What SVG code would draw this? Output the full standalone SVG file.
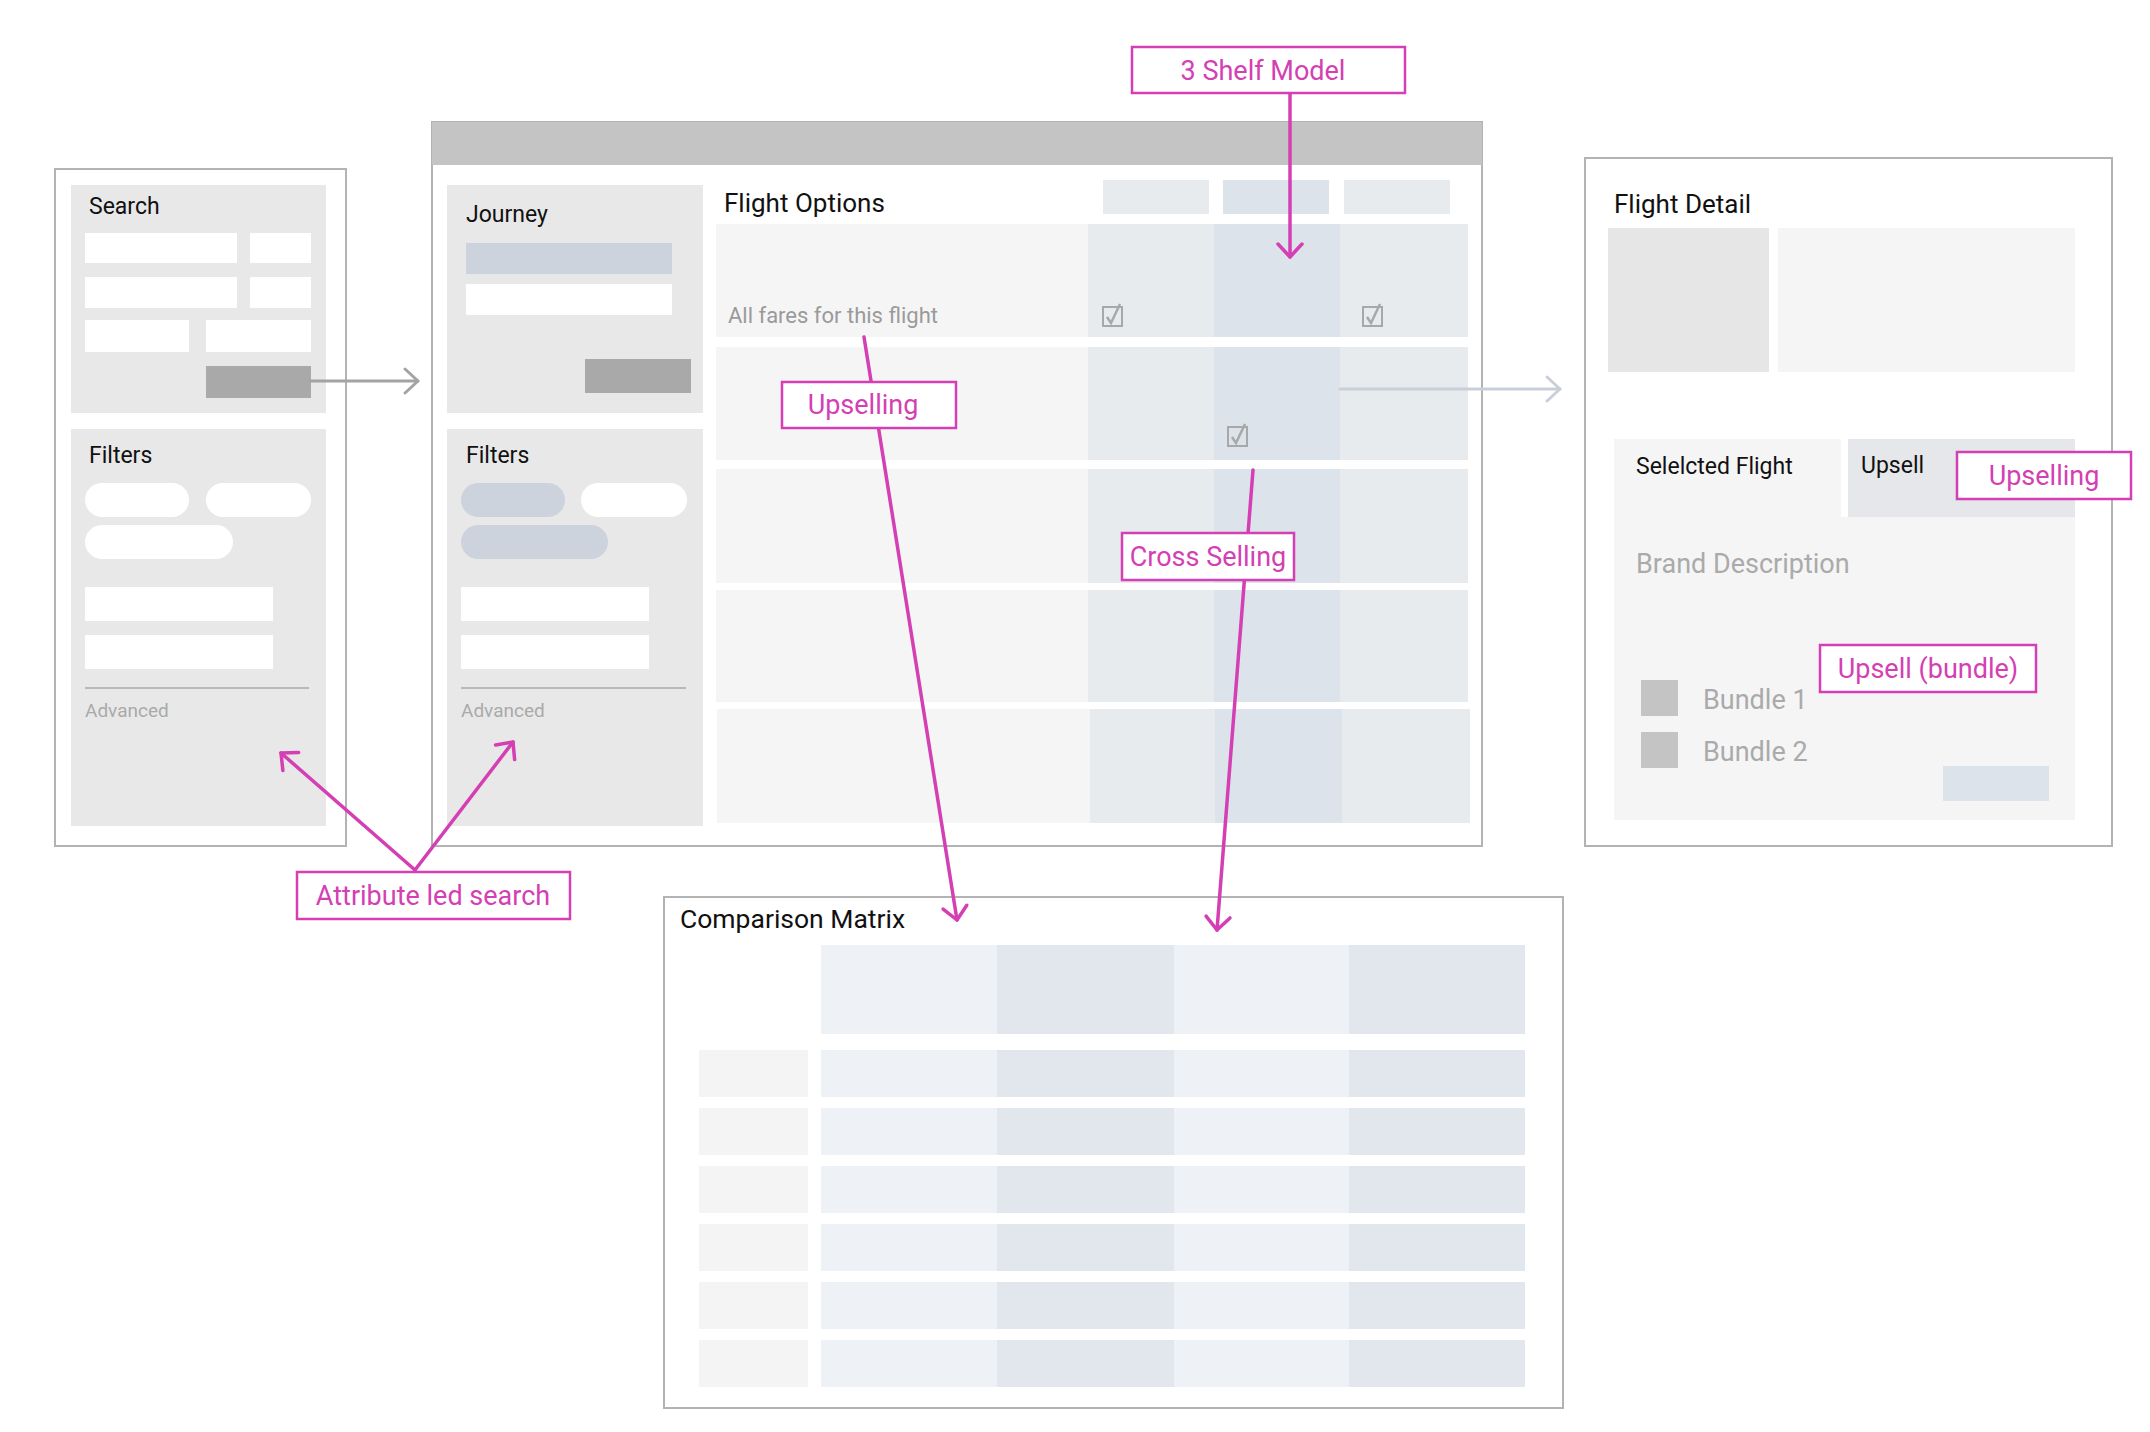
<svg xmlns="http://www.w3.org/2000/svg" width="2150" height="1432" viewBox="0 0 2150 1432">
<defs>
<style>
text{font-family:Roboto,"Liberation Sans",sans-serif}
.frame{fill:#fff;stroke:#b3b3b3;stroke-width:2}
.panel{fill:#e8e8e8}
.inp{fill:#fff}
.btn{fill:#a9a9a9}
.blue{fill:#ccd3dd}
.row{fill:#f5f5f6}
.c1{fill:#e8ebee}
.c2{fill:#dde3ea}
.m1{fill:#eef1f5}
.m2{fill:#e2e6ed}
.lab{fill:#f4f4f4}
.h{font-size:23px;fill:#111}
.t{font-size:26px;fill:#111}
.g{font-size:27px;fill:#aaaaaa}
.adv{font-size:19px;fill:#aaaaaa}
.sep{stroke:#a8a8a8;stroke-width:1.5}
.cb{fill:none;stroke:#a8a8a8;stroke-width:2}
.call rect{fill:#fff;stroke:#d43fb4;stroke-width:2.5}
.call text{font-size:27px;fill:#d43fb4;text-anchor:middle}
.pk{fill:none;stroke:#d43fb4;stroke-width:3.5;stroke-linecap:round}
.gy{fill:none;stroke:#a3a3a3;stroke-width:3;stroke-linecap:round}
.bl{fill:none;stroke:#c9cfd8;stroke-width:3;stroke-linecap:round}
</style>
<marker id="mpk" viewBox="-16 -15 20 30" refX="0" refY="0" markerWidth="20" markerHeight="30" markerUnits="userSpaceOnUse" orient="auto">
<path d="M-13,-12 L0,0 L-13,12" fill="none" stroke="#d43fb4" stroke-width="3.5" stroke-linecap="round" stroke-linejoin="round"/>
</marker>
<marker id="mgy" viewBox="-16 -15 20 30" refX="0" refY="0" markerWidth="20" markerHeight="30" markerUnits="userSpaceOnUse" orient="auto">
<path d="M-13,-12 L0,0 L-13,12" fill="none" stroke="#a3a3a3" stroke-width="3" stroke-linecap="round" stroke-linejoin="round"/>
</marker>
<marker id="mbl" viewBox="-16 -15 20 30" refX="0" refY="0" markerWidth="20" markerHeight="30" markerUnits="userSpaceOnUse" orient="auto">
<path d="M-13,-12 L0,0 L-13,12" fill="none" stroke="#c9cfd8" stroke-width="3" stroke-linecap="round" stroke-linejoin="round"/>
</marker>
<g id="check">
<rect x="0" y="0" width="19" height="19" class="cb"/>
<path d="M4,10 L8,16 L17,-3" fill="none" stroke="#a8a8a8" stroke-width="2.5"/>
</g>
</defs>
<rect width="2150" height="1432" fill="#fff"/>

<g id="search-panel">
<rect x="55" y="169" width="291" height="677" class="frame"/>
<rect x="71" y="185" width="255" height="228" class="panel"/>
<text x="89" y="214" class="h">Search</text>
<rect x="85" y="233" width="152" height="30" class="inp"/>
<rect x="250" y="233" width="61" height="30" class="inp"/>
<rect x="85" y="277" width="152" height="31" class="inp"/>
<rect x="250" y="277" width="61" height="31" class="inp"/>
<rect x="85" y="320" width="104" height="32" class="inp"/>
<rect x="206" y="320" width="105" height="32" class="inp"/>
<rect x="206" y="366" width="105" height="32" class="btn"/>
<rect x="71" y="429" width="255" height="397" class="panel"/>
<text x="89" y="463" class="h">Filters</text>
<rect x="85" y="483" width="104" height="34" rx="17" class="inp"/>
<rect x="206" y="483" width="105" height="34" rx="17" class="inp"/>
<rect x="85" y="525" width="148" height="34" rx="17" class="inp"/>
<rect x="85" y="587" width="188" height="34" class="inp"/>
<rect x="85" y="635" width="188" height="34" class="inp"/>
<line x1="85" y1="688" x2="309" y2="688" class="sep"/>
<text x="85" y="717" class="adv">Advanced</text>
</g>

<g id="results-window">
<rect x="432" y="122" width="1050" height="724" class="frame"/>
<rect x="432" y="122" width="1050" height="43" fill="#c4c4c4"/>
<rect x="447" y="185" width="256" height="228" class="panel"/>
<text x="466" y="222" class="h">Journey</text>
<rect x="466" y="243" width="206" height="31" class="blue"/>
<rect x="466" y="284" width="206" height="31" class="inp"/>
<rect x="585" y="359" width="106" height="34" class="btn"/>
<rect x="447" y="429" width="256" height="397" class="panel"/>
<text x="466" y="463" class="h">Filters</text>
<rect x="461" y="483" width="104" height="34" rx="17" class="blue"/>
<rect x="581" y="483" width="106" height="34" rx="17" class="inp"/>
<rect x="461" y="525" width="147" height="34" rx="17" class="blue"/>
<rect x="461" y="587" width="188" height="34" class="inp"/>
<rect x="461" y="635" width="188" height="34" class="inp"/>
<line x1="461" y1="688" x2="686" y2="688" class="sep"/>
<text x="461" y="717" class="adv">Advanced</text>

<text x="724" y="212" class="t">Flight Options</text>
<rect x="1103" y="180" width="106" height="34" class="c1"/>
<rect x="1223" y="180" width="106" height="34" class="c2"/>
<rect x="1344" y="180" width="106" height="34" class="c1"/>

<g id="fare-rows">
<rect x="716" y="224" width="372" height="113" class="row"/>
<rect x="1088" y="224" width="126" height="113" class="c1"/>
<rect x="1214" y="224" width="126" height="113" class="c2"/>
<rect x="1340" y="224" width="128" height="113" class="c1"/>

<rect x="716" y="347" width="372" height="113" class="row"/>
<rect x="1088" y="347" width="126" height="113" class="c1"/>
<rect x="1214" y="347" width="126" height="113" class="c2"/>
<rect x="1340" y="347" width="128" height="113" class="c1"/>

<rect x="716" y="469" width="372" height="114" class="row"/>
<rect x="1088" y="469" width="126" height="114" class="c1"/>
<rect x="1214" y="469" width="126" height="114" class="c2"/>
<rect x="1340" y="469" width="128" height="114" class="c1"/>

<rect x="716" y="590" width="372" height="112" class="row"/>
<rect x="1088" y="590" width="126" height="112" class="c1"/>
<rect x="1214" y="590" width="126" height="112" class="c2"/>
<rect x="1340" y="590" width="128" height="112" class="c1"/>

<rect x="717" y="709" width="373" height="114" class="row"/>
<rect x="1090" y="709" width="125" height="114" class="c1"/>
<rect x="1215" y="709" width="127" height="114" class="c2"/>
<rect x="1342" y="709" width="128" height="114" class="c1"/>
</g>
<text x="728" y="323" font-size="22" fill="#9a9a9a">All fares for this flight</text>
<use href="#check" x="1103" y="307"/>
<use href="#check" x="1363" y="307"/>
<use href="#check" x="1228" y="427"/>
</g>

<g id="flight-detail">
<rect x="1585" y="158" width="527" height="688" class="frame"/>
<text x="1614" y="213" class="t">Flight Detail</text>
<rect x="1608" y="228" width="161" height="144" fill="#e6e6e6"/>
<rect x="1778" y="228" width="297" height="144" class="row"/>
<rect x="1614" y="439" width="461" height="381" class="row"/>
<rect x="1841" y="439" width="7" height="78" fill="#fff"/>
<rect x="1848" y="439" width="227" height="78" fill="#e5e7ea"/>
<text x="1636" y="474" class="h">Selelcted Flight</text>
<text x="1861" y="473" class="h">Upsell</text>
<text x="1636" y="573" class="g">Brand Description</text>
<rect x="1641" y="680" width="37" height="36" fill="#c4c4c4"/>
<rect x="1641" y="732" width="37" height="36" fill="#c4c4c4"/>
<text x="1703" y="709" class="g">Bundle 1</text>
<text x="1703" y="761" class="g">Bundle 2</text>
<rect x="1943" y="766" width="106" height="35" class="c2"/>
</g>

<g id="comparison-matrix">
<rect x="664" y="897" width="899" height="511" class="frame"/>
<text x="680" y="928" font-size="26.5" fill="#111">Comparison Matrix</text>
<rect x="821" y="945" width="176" height="89" class="m1"/>
<rect x="997" y="945" width="177" height="89" class="m2"/>
<rect x="1174" y="945" width="175" height="89" class="m1"/>
<rect x="1349" y="945" width="176" height="89" class="m2"/>
<g id="matrix-row">
<rect x="699" y="1050" width="109" height="47" class="lab"/>
<rect x="821" y="1050" width="176" height="47" class="m1"/>
<rect x="997" y="1050" width="177" height="47" class="m2"/>
<rect x="1174" y="1050" width="175" height="47" class="m1"/>
<rect x="1349" y="1050" width="176" height="47" class="m2"/>
</g>
<use href="#matrix-row" y="58"/>
<use href="#matrix-row" y="116"/>
<use href="#matrix-row" y="174"/>
<use href="#matrix-row" y="232"/>
<use href="#matrix-row" y="290"/>
</g>

<g id="connectors">
<line x1="311" y1="381" x2="418" y2="381" class="gy" marker-end="url(#mgy)"/>
<line x1="1340" y1="389" x2="1560" y2="389" class="bl" marker-end="url(#mbl)"/>
<line x1="1290" y1="93" x2="1290" y2="257" class="pk" marker-end="url(#mpk)"/>
<line x1="864" y1="337" x2="957" y2="920" class="pk" marker-end="url(#mpk)"/>
<line x1="1253" y1="470" x2="1217" y2="930" class="pk" marker-end="url(#mpk)"/>
<line x1="415" y1="870" x2="281" y2="753" class="pk" marker-end="url(#mpk)"/>
<line x1="415" y1="870" x2="513" y2="742" class="pk" marker-end="url(#mpk)"/>
</g>

<g id="callout-3shelf" class="call">
<rect x="1132" y="47" width="273" height="46"/>
<text x="1263" y="80">3 Shelf Model</text>
</g>
<g id="callout-upselling" class="call">
<rect x="782" y="382" width="174" height="46"/>
<text x="863" y="414">Upselling</text>
</g>
<g id="callout-cross" class="call">
<rect x="1122" y="533" width="172" height="47"/>
<text x="1208" y="566">Cross Selling</text>
</g>
<g id="callout-upselling-detail" class="call">
<rect x="1957" y="452" width="174" height="47"/>
<text x="2044" y="485">Upselling</text>
</g>
<g id="callout-bundle" class="call">
<rect x="1820" y="645" width="216" height="47"/>
<text x="1928" y="678">Upsell (bundle)</text>
</g>
<g id="callout-attribute" class="call">
<rect x="297" y="872" width="273" height="47"/>
<text x="433" y="905">Attribute led search</text>
</g>
</svg>
